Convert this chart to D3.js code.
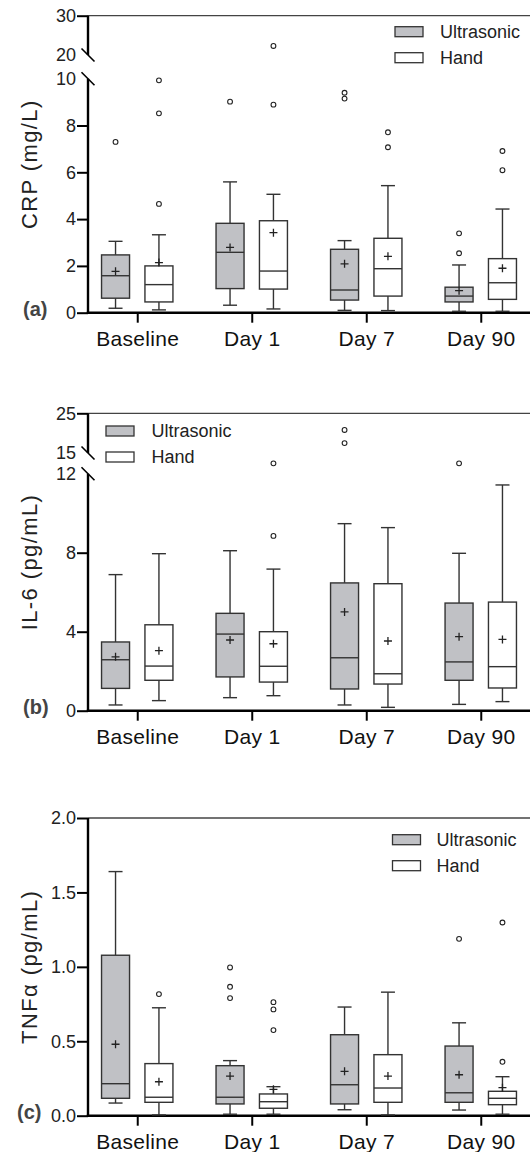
<!DOCTYPE html>
<html>
<head>
<meta charset="utf-8">
<script src="https://cdn.jsdelivr.net/npm/d3@7/dist/d3.min.js"></script>
<style>
  html, body { margin: 0; padding: 0; background: #fff; }
  svg { display: block; font-family: "Liberation Sans", Arial, Helvetica, sans-serif; }
</style>
</head>
<body>
<svg id="chart" width="530" height="1152"></svg>
<script>
// ---------- DATA ----------
const categories = ["Baseline", "Day 1", "Day 7", "Day 90"];
const groups = ["Ultrasonic", "Hand"];

// each row: [min, q1, median, q3, max, mean] per category
const crpUltrasonic = [
  [0.19, 0.62, 1.58, 2.47, 3.05, 1.77],
  [0.32, 1.03, 2.58, 3.82, 5.59, 2.79],
  [0.10, 0.54, 0.97, 2.71, 3.08, 2.09],
  [0.06, 0.46, 0.71, 1.09, 2.04, 0.94]
];
const crpHand = [
  [0.12, 0.46, 1.20, 2.00, 3.33, 2.14],
  [0.16, 1.01, 1.78, 3.93, 5.06, 3.42],
  [0.09, 0.71, 1.88, 3.18, 5.43, 2.41],
  [0.06, 0.57, 1.28, 2.31, 4.43, 1.90]
];
const crpUltrasonicOutliers = [[7.3], [9.02], [9.15, 9.4], [2.54, 3.39]];
const crpHandOutliers = [[4.65, 8.52, 9.93], [8.89, 22.3], [7.07, 7.71], [6.09, 6.91]];
const crpTicks = [0, 2, 4, 6, 8, 10, 20, 30];
const crpBreak = [10, 20];

const il6Ultrasonic = [
  [0.29, 1.13, 2.58, 3.48, 6.89, 2.73],
  [0.66, 1.71, 3.88, 4.93, 8.10, 3.58],
  [0.29, 1.10, 2.68, 6.47, 9.47, 5.00],
  [0.32, 1.54, 2.47, 5.45, 7.97, 3.75]
];
const il6Hand = [
  [0.51, 1.54, 2.26, 4.35, 7.95, 3.04],
  [0.76, 1.45, 2.25, 4.00, 7.17, 3.39],
  [0.17, 1.35, 1.87, 6.43, 9.27, 3.53],
  [0.46, 1.15, 2.23, 5.50, 11.43, 3.61]
];
const il6UltrasonicOutliers = [[], [], [17.5, 20.8], [13.5]];
const il6HandOutliers = [[], [8.85, 13.5], [], []];
const il6Ticks = [0, 4, 8, 12, 15, 25];
const il6Break = [12, 15];

const tnfUltrasonic = [
  [0.085, 0.117, 0.215, 1.078, 1.64, 0.48],
  [0.010, 0.079, 0.124, 0.336, 0.37, 0.266],
  [0.040, 0.079, 0.208, 0.544, 0.73, 0.298],
  [0.038, 0.090, 0.154, 0.468, 0.624, 0.275]
];
const tnfHand = [
  [0.005, 0.090, 0.124, 0.350, 0.725, 0.228],
  [0.010, 0.050, 0.094, 0.146, 0.195, 0.177],
  [0.005, 0.090, 0.186, 0.410, 0.830, 0.266],
  [0.010, 0.074, 0.117, 0.164, 0.262, 0.188]
];
const tnfUltrasonicOutliers = [[], [0.79, 0.866, 0.996], [], [1.188]];
const tnfHandOutliers = [[0.817], [0.575, 0.714, 0.763], [], [0.362, 1.298]];
const tnfTicks = [0, 0.5, 1.0, 1.5, 2.0];
const tnfBreak = [];

// ---------- LAYOUT ----------
const svg = d3.select("#chart");
const axisX = 88, rightX = 530;
const boxW = 28, capW = 14;
const fills = { Ultrasonic: "#c0c1c5", Hand: "#ffffff" };
const stroke = "#333";

const x = d3.scalePoint().domain(categories).range([axisX, rightX]).padding(0.43);
const xSub = d3.scalePoint().domain(groups).range([-21.7, 21.7]);

const panels = [
  { letter: "(a)", title: "CRP (mg/L)", series: { Ultrasonic: crpUltrasonic, Hand: crpHand },
    outliers: { Ultrasonic: crpUltrasonicOutliers, Hand: crpHandOutliers },
    domain: [0, 10, 20, 30], range: [312.7, 78.7, 55, 15.7], ticks: crpTicks, brk: crpBreak,
    fmt: d3.format("d"), legend: { x: 395, y: 31.7, tx: 440 }, letterX: 23 },
  { letter: "(b)", title: "IL-6 (pg/mL)", series: { Ultrasonic: il6Ultrasonic, Hand: il6Hand },
    outliers: { Ultrasonic: il6UltrasonicOutliers, Hand: il6HandOutliers },
    domain: [0, 12, 15, 25], range: [710.7, 473.7, 453, 413.3], ticks: il6Ticks, brk: il6Break,
    fmt: d3.format("d"), legend: { x: 106, y: 431, tx: 151.5 }, letterX: 23 },
  { letter: "(c)", title: "TNFα (pg/mL)", series: { Ultrasonic: tnfUltrasonic, Hand: tnfHand },
    outliers: { Ultrasonic: tnfUltrasonicOutliers, Hand: tnfHandOutliers },
    domain: [0, 2], range: [1115.7, 818], ticks: tnfTicks, brk: tnfBreak,
    fmt: d3.format(".1f"), legend: { x: 392.5, y: 839.7, tx: 436.5 }, letterX: 17 }
];

panels.forEach(p => {
  const y = d3.scaleLinear().domain(p.domain).range(p.range);
  const g = svg.append("g");
  const y0 = y(0), yTop = y(p.domain[p.domain.length - 1]);

  // top frame line
  g.append("line").attr("x1", axisX).attr("x2", rightX).attr("y1", yTop).attr("y2", yTop)
    .attr("stroke", "#444").attr("stroke-width", 1.3);

  // y axis ticks and labels
  const ya = g.append("g").attr("transform", `translate(${axisX},0)`)
    .call(d3.axisLeft(y).tickValues(p.ticks).tickSize(11).tickPadding(1).tickFormat(p.fmt));
  ya.select(".domain").remove();
  ya.selectAll(".tick line").attr("stroke", "#000").attr("stroke-width", 2)
    .attr("opacity", d => p.brk.includes(d) ? 0 : 1);
  ya.selectAll(".tick text").attr("font-size", 18).attr("fill", "#222")
    .attr("font-family", "Liberation Sans, Arial, sans-serif");

  // y axis line segments (with break)
  let segs;
  if (p.brk.length) {
    segs = [[0, p.brk[0]], [p.brk[1], p.domain[p.domain.length - 1]]];
  } else {
    segs = [[0, p.domain[p.domain.length - 1]]];
  }
  segs.forEach(s => {
    g.append("line").attr("x1", axisX).attr("x2", axisX)
      .attr("y1", y(s[0]) + (s[0] === 0 ? 1 : 0)).attr("y2", y(s[1]))
      .attr("stroke", "#000").attr("stroke-width", 2.4);
  });
  p.brk.forEach(b => {
    const yy = y(b);
    g.append("line").attr("x1", axisX - 6.5).attr("y1", yy - 6.5)
      .attr("x2", axisX + 6.5).attr("y2", yy + 6.5)
      .attr("stroke", "#000").attr("stroke-width", 1.6);
  });

  // x axis
  const xa = g.append("g").attr("transform", `translate(0,${y0})`)
    .call(d3.axisBottom(x).tickSize(10).tickPadding(8).tickSizeOuter(0));
  xa.select(".domain").remove();
  g.append("line").attr("x1", axisX - 1.2).attr("x2", rightX).attr("y1", y0).attr("y2", y0)
    .attr("stroke", "#000").attr("stroke-width", 2.4);
  xa.selectAll(".tick line").attr("stroke", "#000").attr("stroke-width", 2);
  xa.selectAll(".tick text").attr("font-size", 21).attr("fill", "#111")
    .attr("letter-spacing", "0.3px").attr("font-family", "Liberation Sans, Arial, sans-serif");

  // y title
  const yMid = (y0 + yTop) / 2;
  g.append("text").attr("transform", `translate(37,${yMid}) rotate(-90)`)
    .attr("text-anchor", "middle").attr("font-size", 22).attr("letter-spacing", "1.4px")
    .attr("fill", "#222").text(p.title);

  // panel letter
  g.append("text").attr("x", p.letterX).attr("y", y0 + 3).attr("font-size", 20)
    .attr("font-weight", "bold").attr("fill", "#444").text(p.letter);

  // boxes
  groups.forEach(grp => {
    p.series[grp].forEach((s, i) => {
      const [mn, q1, med, q3, mx, mean] = s;
      const cx = x(categories[i]) + xSub(grp);
      const bg = g.append("g");
      // whiskers
      bg.append("line").attr("x1", cx).attr("x2", cx).attr("y1", y(q3)).attr("y2", y(mx))
        .attr("stroke", stroke).attr("stroke-width", 1.4);
      bg.append("line").attr("x1", cx).attr("x2", cx).attr("y1", y(q1)).attr("y2", y(mn))
        .attr("stroke", stroke).attr("stroke-width", 1.4);
      [mn, mx].forEach(v => {
        bg.append("line").attr("x1", cx - capW / 2).attr("x2", cx + capW / 2)
          .attr("y1", y(v)).attr("y2", y(v)).attr("stroke", stroke).attr("stroke-width", 1.4);
      });
      // box
      bg.append("rect").attr("x", cx - boxW / 2).attr("width", boxW)
        .attr("y", y(q3)).attr("height", y(q1) - y(q3))
        .attr("fill", fills[grp]).attr("stroke", stroke).attr("stroke-width", 1.4);
      // median
      bg.append("line").attr("x1", cx - boxW / 2).attr("x2", cx + boxW / 2)
        .attr("y1", y(med)).attr("y2", y(med)).attr("stroke", stroke).attr("stroke-width", 1.4);
      // mean +
      const ym = y(mean);
      bg.append("path").attr("d", `M${cx - 4},${ym}H${cx + 4}M${cx},${ym - 4}V${ym + 4}`)
        .attr("stroke", "#222").attr("stroke-width", 1.3).attr("fill", "none");
      // outliers
      p.outliers[grp][i].forEach(v => {
        bg.append("circle").attr("cx", cx).attr("cy", y(v)).attr("r", 2.4)
          .attr("fill", "none").attr("stroke", "#222").attr("stroke-width", 1.1);
      });
    });
  });

  // legend
  groups.forEach((grp, k) => {
    const ly = p.legend.y + k * 26;
    g.append("rect").attr("x", p.legend.x).attr("y", ly - 5).attr("width", 28).attr("height", 10)
      .attr("fill", fills[grp]).attr("stroke", stroke).attr("stroke-width", 1.3);
    g.append("text").attr("x", p.legend.tx).attr("y", ly).attr("dy", "0.36em")
      .attr("font-size", 18).attr("fill", "#222").text(grp);
  });
});
</script>
</body>
</html>
